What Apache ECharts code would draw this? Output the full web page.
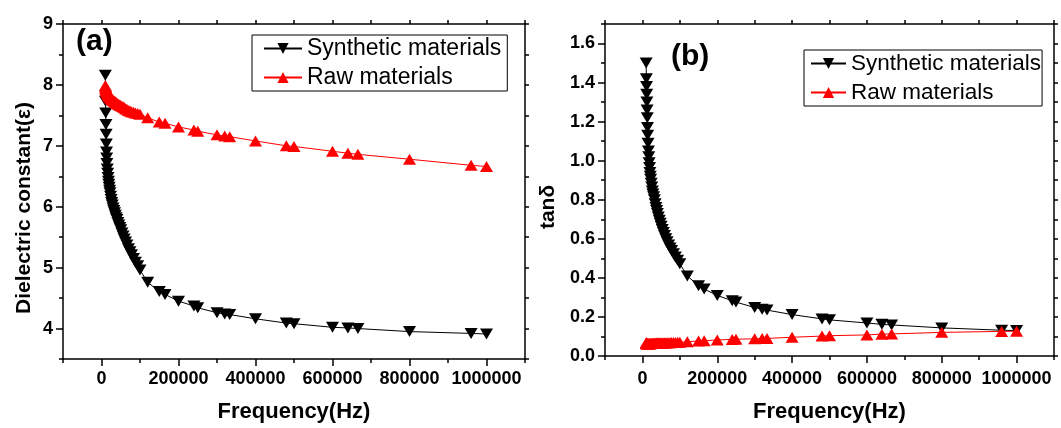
<!DOCTYPE html>
<html>
<head>
<meta charset="utf-8">
<script src="https://cdn.jsdelivr.net/npm/echarts@6/dist/echarts.min.js"></script>
<style>
html,body{margin:0;padding:0;background:#fff;}
#c{width:1061px;height:428px;}
</style>
</head>
<body>
<div id="c"></div>
<script>
// ---- data ----
const freq = [10000, 10500, 11000, 11500, 12000, 12500, 13000, 13500, 14000, 15000,
  16000, 17000, 18000, 19000, 20000, 21000, 22000, 23500, 25000, 26500,
  28000, 30000, 32000, 34000, 36000, 38000, 40000, 42500, 45000, 47500,
  50000, 53000, 56000, 59000, 62500, 66000, 70000, 74000, 78000, 83000,
  88000, 94000, 100000, 120000, 150000, 165000, 200000, 240000, 250000, 300000,
  320000, 333000, 400000, 480000, 500000, 600000, 640000, 666000, 800000, 960000, 1000000];

const epsSynthetic = [8.16, 7.73, 7.54, 7.35, 7.19, 7.03, 6.90, 6.80, 6.71, 6.62,
  6.55, 6.48, 6.42, 6.37, 6.32, 6.27, 6.23, 6.17, 6.12, 6.07,
  6.03, 5.98, 5.94, 5.90, 5.86, 5.82, 5.79, 5.74, 5.70, 5.66,
  5.62, 5.57, 5.52, 5.47, 5.42, 5.37, 5.31, 5.26, 5.21, 5.15,
  5.09, 5.03, 4.96, 4.76, 4.61, 4.56, 4.45, 4.37, 4.34, 4.26,
  4.24, 4.23, 4.16, 4.09, 4.08, 4.02, 4.01, 4.00, 3.95, 3.92, 3.91];

const epsRaw = [7.99, 7.97, 7.95, 7.94, 7.93, 7.92, 7.91, 7.90, 7.89, 7.88,
  7.86, 7.85, 7.84, 7.83, 7.82, 7.81, 7.80, 7.79, 7.78, 7.77,
  7.76, 7.75, 7.74, 7.73, 7.72, 7.71, 7.70, 7.69, 7.68, 7.67,
  7.66, 7.65, 7.64, 7.63, 7.61, 7.60, 7.58, 7.57, 7.56, 7.55,
  7.54, 7.53, 7.52, 7.46, 7.39, 7.37, 7.31, 7.26, 7.24, 7.18,
  7.16, 7.15, 7.08, 7.00, 6.99, 6.91, 6.88, 6.86, 6.78, 6.68, 6.66];

const tanSynthetic = [1.50, 1.42, 1.38, 1.34, 1.30, 1.26, 1.22, 1.17, 1.13, 1.09,
  1.05, 1.02, 0.99, 0.965, 0.94, 0.92, 0.905, 0.885, 0.865, 0.845,
  0.83, 0.815, 0.80, 0.78, 0.76, 0.745, 0.73, 0.712, 0.695, 0.68,
  0.665, 0.648, 0.632, 0.617, 0.60, 0.585, 0.568, 0.553, 0.54, 0.523,
  0.507, 0.49, 0.472, 0.41, 0.36, 0.343, 0.31, 0.283, 0.276, 0.248,
  0.24, 0.235, 0.212, 0.19, 0.185, 0.169, 0.162, 0.159, 0.144, 0.132, 0.13];

const tanRaw = [0.068, 0.066, 0.065, 0.064, 0.063, 0.063, 0.063, 0.063, 0.063, 0.063,
  0.063, 0.063, 0.063, 0.063, 0.063, 0.063, 0.064, 0.064, 0.064, 0.064,
  0.064, 0.065, 0.065, 0.065, 0.065, 0.066, 0.066, 0.066, 0.066, 0.066,
  0.067, 0.067, 0.067, 0.067, 0.068, 0.068, 0.068, 0.068, 0.069, 0.069,
  0.069, 0.070, 0.070, 0.073, 0.077, 0.078, 0.082, 0.085, 0.086, 0.088,
  0.089, 0.090, 0.096, 0.102, 0.104, 0.108, 0.112, 0.113, 0.121, 0.126, 0.127];

const seriesNames = ['Synthetic materials', 'Raw materials'];
const panelLabels = ['(a)', '(b)'];
const xTitle = 'Frequency(Hz)';
const yTitles = ['Dielectric constant(\u03b5)', 'tan\u03b4'];
const xMajorTicks = [0, 200000, 400000, 600000, 800000, 1000000];
const yMajorTicksA = [4, 5, 6, 7, 8, 9];
const yMajorTicksB = [0, 0.2, 0.4, 0.6, 0.8, 1.0, 1.2, 1.4, 1.6];

// ---- chart ----
const FONT = 'Arial, "Liberation Sans", sans-serif';
const pair = (ys) => freq.map((f, i) => [f, ys[i]]);

const lineBase = {color: '#000', width: 1.5};
function xAxisMain(grid, labelMargin) {
  return {
    type: 'value', gridIndex: grid, position: 'bottom',
    min: -100000, max: 1100000, interval: 100000,
    axisLine: {show: true, onZero: false, lineStyle: lineBase},
    axisTick: {show: true, inside: false, length: 4, lineStyle: lineBase},
    splitLine: {show: false},
    axisLabel: {
      show: true, margin: labelMargin, color: '#000', fontFamily: FONT, fontWeight: 'bold', fontSize: 18,
      formatter: v => (xMajorTicks.indexOf(v) >= 0 ? String(v) : '')
    },
    name: xTitle, nameLocation: 'middle', nameGap: labelMargin + 31,
    nameTextStyle: {color: '#000', fontFamily: FONT, fontWeight: 'bold', fontSize: 22}
  };
}
function xAxisMajor(grid) {
  return {
    type: 'value', gridIndex: grid, position: 'bottom',
    min: -100000, max: 1100000,
    axisLine: {show: false, onZero: false},
    axisTick: {show: true, inside: false, length: 7, lineStyle: lineBase, customValues: xMajorTicks},
    axisLabel: {show: false},
    splitLine: {show: false}
  };
}
function xAxisTop(grid) {
  return {
    type: 'value', gridIndex: grid, position: 'top',
    min: -100000, max: 1100000, interval: 100000,
    axisLine: {show: true, onZero: false, lineStyle: lineBase},
    axisTick: {show: true, inside: false, length: 4, lineStyle: lineBase},
    axisLabel: {show: false},
    splitLine: {show: false}
  };
}
function yAxisSet(grid, min, max, interval, majors, fmt) {
  return [{
    type: 'value', gridIndex: grid, position: 'left',
    min: min, max: max, interval: interval,
    axisLine: {show: true, onZero: false, lineStyle: lineBase},
    axisTick: {show: true, inside: false, length: 4, lineStyle: lineBase},
    splitLine: {show: false},
    axisLabel: {
      show: true, margin: 10, color: '#000', fontFamily: FONT, fontWeight: 'bold', fontSize: 18,
      formatter: fmt
    }
  }, {
    type: 'value', gridIndex: grid, position: 'left',
    min: min, max: max,
    axisLine: {show: false, onZero: false},
    axisTick: {show: true, inside: false, length: 7, lineStyle: lineBase, customValues: majors},
    axisLabel: {show: false},
    splitLine: {show: false}
  }, {
    type: 'value', gridIndex: grid, position: 'right',
    min: min, max: max, interval: interval,
    axisLine: {show: true, onZero: false, lineStyle: lineBase},
    axisTick: {show: true, inside: false, length: 4, lineStyle: lineBase},
    axisLabel: {show: false},
    splitLine: {show: false}
  }];
}

const yA = yAxisSet(0, 3.5, 9, 0.5, yMajorTicksA,
  v => (Math.abs(v - Math.round(v)) < 1e-6 ? String(Math.round(v)) : ''));
const yB = yAxisSet(1, 0, 1.7, 0.1, yMajorTicksB,
  v => (Math.round(v * 10) % 2 === 0 ? v.toFixed(1) : ''));

function mkSeries(name, xi, yi, data, color, down) {
  return {
    name: name, type: 'line', xAxisIndex: xi, yAxisIndex: yi,
    data: data, symbol: 'triangle', symbolRotate: down ? 180 : 0, symbolSize: [13, 11],
    showAllSymbol: true,
    itemStyle: {color: color}, lineStyle: {color: color, width: 1},
    emphasis: {disabled: true}, animation: false, clip: false
  };
}

const legendBase = {
  orient: 'vertical', itemWidth: 38, itemHeight: 14, itemGap: 6,
  borderColor: '#000', borderWidth: 1, borderRadius: 0, backgroundColor: '#fff',
  textStyle: {color: '#000', fontFamily: FONT, fontSize: 23},
  data: seriesNames, selectedMode: false
};

function yTitle(text, cx, cy) {
  return {
    type: 'text', x: cx, y: cy, rotation: Math.PI / 2, silent: true,
    style: {text: text, fill: '#000', font: 'bold 21px ' + FONT, align: 'center', verticalAlign: 'middle'}
  };
}

const option = {
  animation: false,
  backgroundColor: '#fff',
  grid: [
    {left: 63, top: 24, width: 462, height: 339, containLabel: false},
    {left: 605, top: 24, width: 449, height: 334, containLabel: false}
  ],
  title: [
    {text: panelLabels[0], left: 76, top: 27, padding: 0,
     textStyle: {color: '#000', fontFamily: FONT, fontWeight: 'bold', fontSize: 30}},
    {text: panelLabels[1], left: 671, top: 42, padding: 0,
     textStyle: {color: '#000', fontFamily: FONT, fontWeight: 'bold', fontSize: 30}}
  ],
  legend: [
    Object.assign({}, legendBase, {left: 252, top: 35, padding: [2, 6, 2, 11]}),
    Object.assign({}, legendBase, {left: 804, top: 50, itemWidth: 35, padding: [2, 1, 2, 6],
      textStyle: {color: '#000', fontFamily: FONT, fontSize: 22.5}})
  ],
  graphic: [yTitle(yTitles[0], 24, 208), yTitle(yTitles[1], 548, 207)],
  xAxis: [xAxisMain(0, 11), xAxisMain(1, 14), xAxisMajor(0), xAxisMajor(1), xAxisTop(0), xAxisTop(1)],
  yAxis: [yA[0], yB[0], yA[1], yB[1], yA[2], yB[2]],
  series: [
    mkSeries(seriesNames[0], 0, 0, pair(epsSynthetic), '#000000', true),
    mkSeries(seriesNames[1], 0, 0, pair(epsRaw), '#ff0000', false),
    mkSeries(seriesNames[0], 1, 1, pair(tanSynthetic), '#000000', true),
    mkSeries(seriesNames[1], 1, 1, pair(tanRaw), '#ff0000', false)
  ]
};

const chart = echarts.init(document.getElementById('c'), null, {renderer: 'canvas'});
chart.setOption(option);
</script>
</body>
</html>
